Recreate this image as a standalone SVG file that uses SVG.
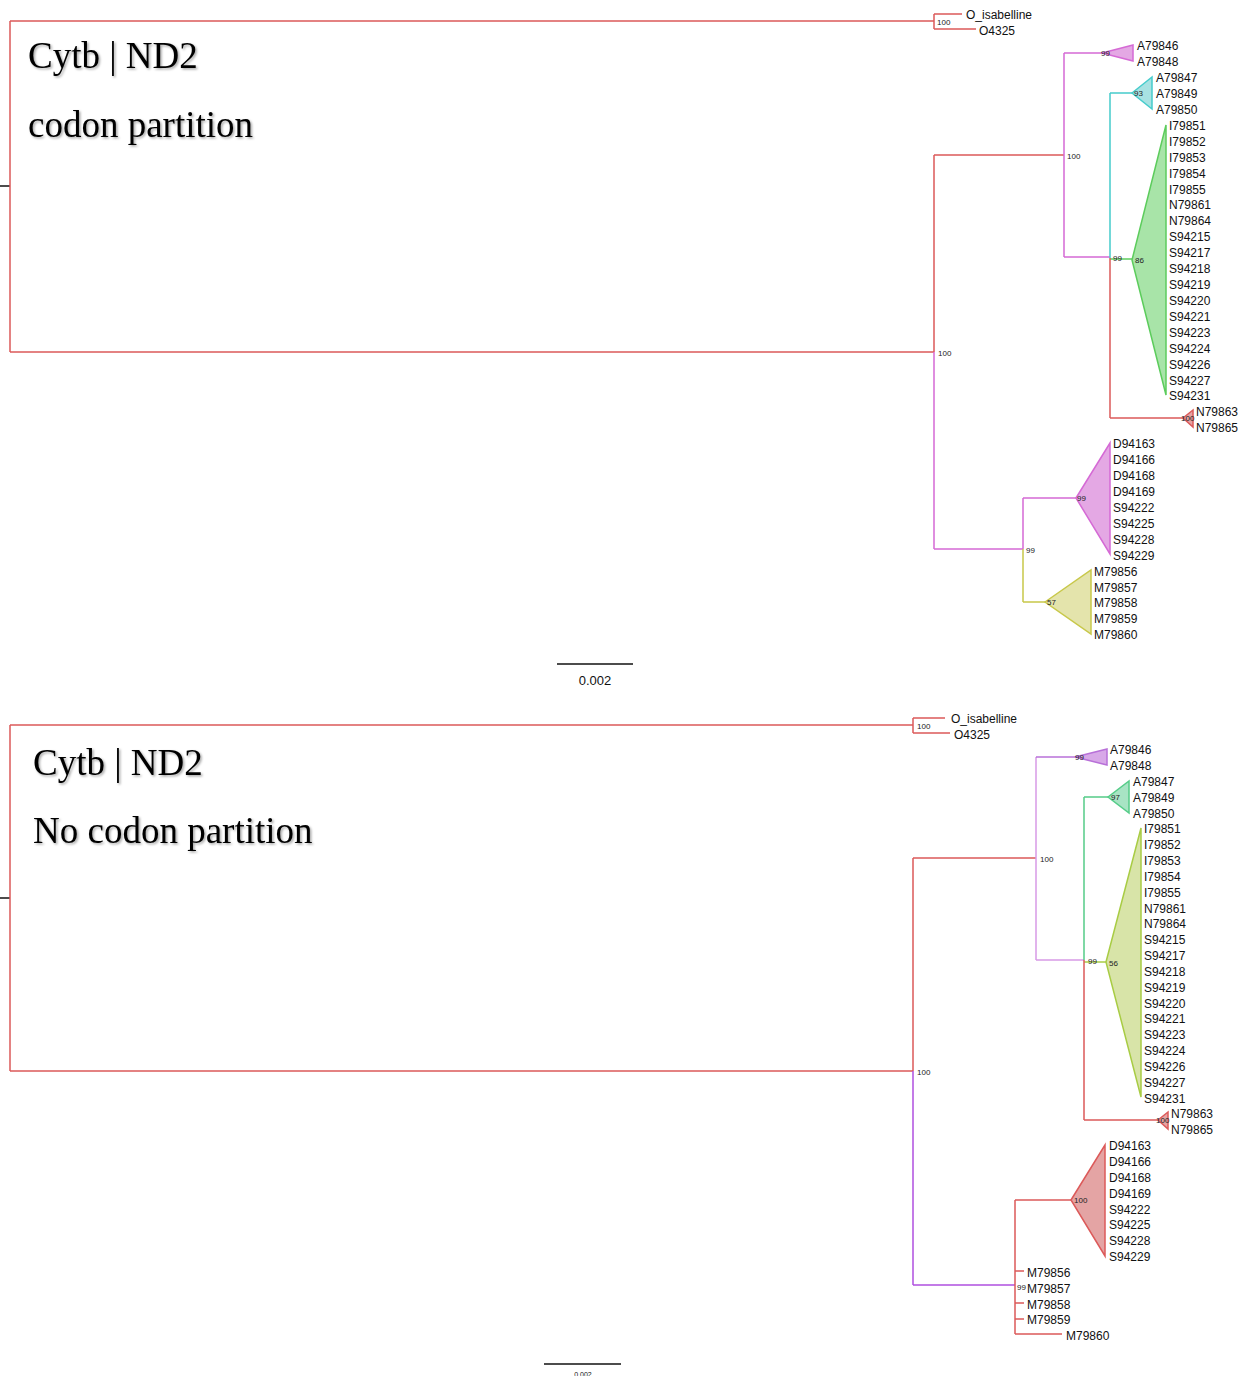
<svg xmlns="http://www.w3.org/2000/svg" width="1250" height="1376" viewBox="0 0 1250 1376">
<defs>
<filter id="sh" x="-5%" y="-20%" width="110%" height="140%">
<feDropShadow dx="1.5" dy="1.5" stdDeviation="1.2" flood-color="#000" flood-opacity="0.35"/>
</filter>
<style>
.leaf{font-family:"Liberation Sans",Arial,sans-serif;font-size:12px;fill:#111}
.sup{font-family:"Liberation Sans",Arial,sans-serif;font-size:8px;fill:#222}
.title{font-family:"Liberation Serif","Times New Roman",serif;font-size:37px;fill:#000;filter:url(#sh)}
.scale{font-family:"Liberation Sans",Arial,sans-serif;fill:#111}
path{fill:none;stroke-width:1.5}
.red{stroke:#dc5a5a}
.mag{stroke:#d56ad5}
.cya{stroke:#46cccc}
.grn{stroke:#5ccc5c}
.olv{stroke:#c8c84a}
.vio{stroke:#b870d8}
.lav{stroke:#d89ae6}
.pur{stroke:#b050e0}
.sgr{stroke:#55cc88}
.ygr{stroke:#a8cc44}
.blk{stroke:#111}
.tri{stroke-width:1.5}
.t-mag{fill:#e4a8e4;stroke:#d56ad5}
.t-cya{fill:#a8e2e2;stroke:#46cccc}
.t-grn{fill:#a8e4a8;stroke:#5ccc5c}
.t-red{fill:#e4a4a4;stroke:#dc5a5a}
.t-olv{fill:#e4e4ac;stroke:#c8c84a}
.t-vio{fill:#d8a8e8;stroke:#b870d8}
.t-sgr{fill:#a8e4c4;stroke:#55cc88}
.t-ygr{fill:#d8e4a8;stroke:#a8cc44}
</style>
</defs>
<rect width="1250" height="1376" fill="#fff"/>

<g id="titles">
<text class="title" x="28" y="68">Cytb | ND2</text>
<text class="title" x="28" y="137">codon partition</text>
<text class="title" x="33" y="775">Cytb | ND2</text>
<text class="title" x="33" y="843">No codon partition</text>
</g>

<g id="connectors">
<!-- top tree -->
<path class="blk" d="M0,186 H10"/>
<path class="red" d="M10,21 V352 M10,21 H934 M934,14 V29 M934,14 H962 M934,29 H976 M10,352 H934 M934,155 V352 M934,155 H1064"/>
<path class="mag" d="M934,352 V549 M1064,53 V257 M1064,53 H1102 M1064,257 H1110 M934,549 H1023 M1023,498 V549 M1023,498 H1076"/>
<path class="cya" d="M1110,93 V258 M1110,93 H1132"/>
<path class="grn" d="M1110,259 H1132"/>
<path class="red" d="M1110,258 V418 M1110,418 H1183"/>
<path class="olv" d="M1023,549 V602 M1023,602 H1045"/>
<!-- bottom tree -->
<path class="blk" d="M0,898 H10"/>
<path class="red" d="M10,725 V1071 M10,725 H913 M913,718 V733 M913,718 H945 M913,733 H950 M10,1071 H913 M913,858 V1071 M913,858 H1036"/>
<path class="pur" d="M913,1071 V1285 M913,1285 H1015"/>
<path class="lav" d="M1036,757 V960 M1036,960 H1084"/>
<path class="vio" d="M1036,757 H1075"/>
<path class="sgr" d="M1084,797 V960 M1084,797 H1108"/>
<path class="ygr" d="M1084,962 H1106"/>
<path class="red" d="M1084,960 V1120 M1084,1120 H1158 M1015,1200 V1334 M1015,1200 H1071 M1015,1271 H1024 M1015,1303 H1024 M1015,1319 H1024 M1015,1334 H1062"/>
</g>

<g id="scale-top">
<path class="blk" d="M557,664 H633"/>
<text class="scale" x="595" y="685" font-size="13" text-anchor="middle">0.002</text>
</g>
<g id="scale-bottom">
<path class="blk" d="M544,1364 H621"/>
<text class="scale" x="583" y="1377" font-size="7" text-anchor="middle">0.002</text>
</g>

<!-- ===== top tree nodes ===== -->
<g id="top-outgroup">
<text class="sup" x="937" y="25">100</text>
<text class="leaf" x="966" y="19">O_isabelline</text>
<text class="leaf" x="979" y="35">O4325</text>
</g>
<g id="top-n100a"><text class="sup" x="938" y="356">100</text></g>
<g id="top-n100b"><text class="sup" x="1067" y="159">100</text></g>
<g id="top-n99a"><text class="sup" x="1113" y="261">99</text></g>
<g id="top-n99b"><text class="sup" x="1026" y="553">99</text></g>

<g id="top-clade-A1">
<polygon class="tri t-mag" points="1102,53 1133,45 1133,61"/>
<text class="sup" x="1101" y="56">99</text>
<text class="leaf" x="1137" y="50">A79846</text>
<text class="leaf" x="1137" y="66">A79848</text>
</g>
<g id="top-clade-A2">
<polygon class="tri t-cya" points="1132,93 1152,77 1152,109"/>
<text class="sup" x="1134" y="96">93</text>
<text class="leaf" x="1156" y="82">A79847</text>
<text class="leaf" x="1156" y="98">A79849</text>
<text class="leaf" x="1156" y="114">A79850</text>
</g>
<g id="top-clade-ISN">
<polygon class="tri t-grn" points="1132,260 1166,125 1166,395"/>
<text class="sup" x="1135" y="263">86</text>
<text class="leaf" x="1169" y="130">I79851</text>
<text class="leaf" x="1169" y="145.5">I79852</text>
<text class="leaf" x="1169" y="161.5">I79853</text>
<text class="leaf" x="1169" y="177.5">I79854</text>
<text class="leaf" x="1169" y="193.5">I79855</text>
<text class="leaf" x="1169" y="209">N79861</text>
<text class="leaf" x="1169" y="225">N79864</text>
<text class="leaf" x="1169" y="241">S94215</text>
<text class="leaf" x="1169" y="257">S94217</text>
<text class="leaf" x="1169" y="273">S94218</text>
<text class="leaf" x="1169" y="289">S94219</text>
<text class="leaf" x="1169" y="304.5">S94220</text>
<text class="leaf" x="1169" y="320.5">S94221</text>
<text class="leaf" x="1169" y="336.5">S94223</text>
<text class="leaf" x="1169" y="352.5">S94224</text>
<text class="leaf" x="1169" y="368.5">S94226</text>
<text class="leaf" x="1169" y="384.5">S94227</text>
<text class="leaf" x="1169" y="400">S94231</text>
</g>
<g id="top-clade-N">
<polygon class="tri t-red" points="1183,418 1193,410 1193,427"/>
<text class="sup" x="1181" y="421">100</text>
<text class="leaf" x="1196" y="416">N79863</text>
<text class="leaf" x="1196" y="432">N79865</text>
</g>
<g id="top-clade-DS">
<polygon class="tri t-mag" points="1076,498 1110,443 1110,554"/>
<text class="sup" x="1077" y="501">99</text>
<text class="leaf" x="1113" y="448">D94163</text>
<text class="leaf" x="1113" y="464">D94166</text>
<text class="leaf" x="1113" y="480">D94168</text>
<text class="leaf" x="1113" y="496">D94169</text>
<text class="leaf" x="1113" y="511.5">S94222</text>
<text class="leaf" x="1113" y="527.5">S94225</text>
<text class="leaf" x="1113" y="543.5">S94228</text>
<text class="leaf" x="1113" y="559.5">S94229</text>
</g>
<g id="top-clade-M">
<polygon class="tri t-olv" points="1045,602 1091,570 1091,634"/>
<text class="sup" x="1047" y="605">57</text>
<text class="leaf" x="1094" y="575.5">M79856</text>
<text class="leaf" x="1094" y="591.5">M79857</text>
<text class="leaf" x="1094" y="607">M79858</text>
<text class="leaf" x="1094" y="623">M79859</text>
<text class="leaf" x="1094" y="639">M79860</text>
</g>

<!-- ===== bottom tree nodes ===== -->
<g id="bot-outgroup">
<text class="sup" x="917" y="729">100</text>
<text class="leaf" x="951" y="723">O_isabelline</text>
<text class="leaf" x="954" y="739">O4325</text>
</g>
<g id="bot-n100a"><text class="sup" x="917" y="1075">100</text></g>
<g id="bot-n100b"><text class="sup" x="1040" y="862">100</text></g>
<g id="bot-n99a"><text class="sup" x="1088" y="964">99</text></g>

<g id="bot-clade-A1">
<polygon class="tri t-vio" points="1075,757 1107,749 1107,765"/>
<text class="sup" x="1075" y="760">99</text>
<text class="leaf" x="1110" y="754">A79846</text>
<text class="leaf" x="1110" y="770">A79848</text>
</g>
<g id="bot-clade-A2">
<polygon class="tri t-sgr" points="1108,797 1129,781 1129,813"/>
<text class="sup" x="1111" y="800">97</text>
<text class="leaf" x="1133" y="786">A79847</text>
<text class="leaf" x="1133" y="801.5">A79849</text>
<text class="leaf" x="1133" y="817.5">A79850</text>
</g>
<g id="bot-clade-ISN">
<polygon class="tri t-ygr" points="1106,962 1141,828 1141,1097"/>
<text class="sup" x="1109" y="966">56</text>
<text class="leaf" x="1144" y="833">I79851</text>
<text class="leaf" x="1144" y="849">I79852</text>
<text class="leaf" x="1144" y="865">I79853</text>
<text class="leaf" x="1144" y="881">I79854</text>
<text class="leaf" x="1144" y="896.5">I79855</text>
<text class="leaf" x="1144" y="912.5">N79861</text>
<text class="leaf" x="1144" y="928">N79864</text>
<text class="leaf" x="1144" y="944">S94215</text>
<text class="leaf" x="1144" y="960">S94217</text>
<text class="leaf" x="1144" y="976">S94218</text>
<text class="leaf" x="1144" y="991.5">S94219</text>
<text class="leaf" x="1144" y="1007.5">S94220</text>
<text class="leaf" x="1144" y="1023">S94221</text>
<text class="leaf" x="1144" y="1039">S94223</text>
<text class="leaf" x="1144" y="1055">S94224</text>
<text class="leaf" x="1144" y="1071">S94226</text>
<text class="leaf" x="1144" y="1086.5">S94227</text>
<text class="leaf" x="1144" y="1102.5">S94231</text>
</g>
<g id="bot-clade-N">
<polygon class="tri t-red" points="1158,1120 1168,1112 1168,1129"/>
<text class="sup" x="1156" y="1123">100</text>
<text class="leaf" x="1171" y="1118">N79863</text>
<text class="leaf" x="1171" y="1134">N79865</text>
</g>
<g id="bot-clade-DS">
<polygon class="tri t-red" points="1071,1200 1105,1145 1105,1256"/>
<text class="sup" x="1074" y="1203">100</text>
<text class="leaf" x="1109" y="1150">D94163</text>
<text class="leaf" x="1109" y="1166">D94166</text>
<text class="leaf" x="1109" y="1181.5">D94168</text>
<text class="leaf" x="1109" y="1197.5">D94169</text>
<text class="leaf" x="1109" y="1213.5">S94222</text>
<text class="leaf" x="1109" y="1229">S94225</text>
<text class="leaf" x="1109" y="1245">S94228</text>
<text class="leaf" x="1109" y="1261">S94229</text>
</g>
<g id="bot-clade-M">
<text class="sup" x="1017" y="1290">99</text>
<text class="leaf" x="1027" y="1276.5">M79856</text>
<text class="leaf" x="1027" y="1292.5">M79857</text>
<text class="leaf" x="1027" y="1308.5">M79858</text>
<text class="leaf" x="1027" y="1324">M79859</text>
<text class="leaf" x="1066" y="1340">M79860</text>
</g>
</svg>
